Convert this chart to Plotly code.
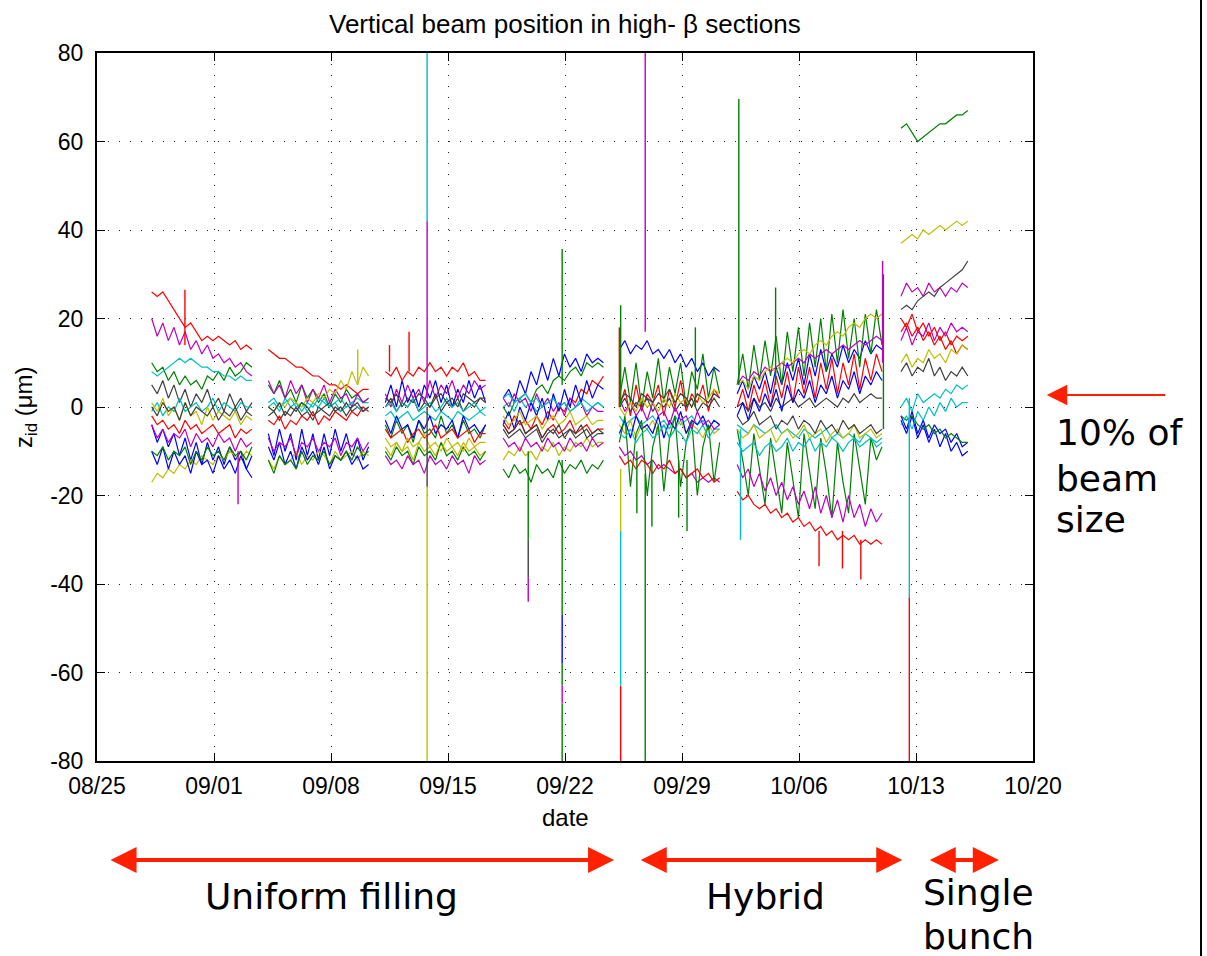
import plotly.graph_objects as go
import pandas as pd

# ---------------- data ----------------
BASE = pd.Timestamp("2006-08-25")
STEP_HOURS = 8
# start of each measurement block (days after 08/25)
seg_start_day = [3.27, 10.25, 17.25, 24.3, 31.25, 38.3, 48.1]

color_map = {
    "b": "#0000FF", "g": "#008000", "r": "#FF0000", "c": "#00BFBF",
    "m": "#BF00BF", "y": "#BFBF00", "k": "#404040",
}

b1 = [[-4,-8,-5,-9,-6,-11,-7,-12,-8,-13,-8,-12,-9,-13,-9,-12,-10,-14,-11],
      [-6,-11,-5,-10,-6,-12,-5,-11,-6,-12,-6,-11,-5,-10,-6,-11,-7,-12,-9],
      [1,5,0,6,1,4,0,5,2,6,1,5,0,4,1,6,2,5,1],
      [2,4,1,6,3,8,5,10,6,11,7,12,9,11,8,12,10,11,10],
      [13,15,12,14,13,15,12,13,11,13,10,12,9,11,8,10,7,9,8],
      [3,6,2,7,4,8,3,9,5,10,6,11,5,12,7,13,8,12,9,14,10,13,11,15,12,14,13],
      [-3,-6,-2,-7,-4,-8,-5,-9,-6,-10,-8,-11,-10]]
g1 = [[10,8,9,6,8,5,7,5,6,4,7,6,8,6,9,7,8,10,9],
      [5,3,6,2,4,1,5,2,4,1,3,0,3,1,4,2,3,1,2],
      [-4,-7,-3,-6,-4,-8,-3,-6,-5,-7,-2,-6,-4,-7,-3,-6,-5,-7,-4],
      [0,-2,1,2,3,1,4,5,3,6,7,6,8,9,7,10,9,10,9],
      [2,9,1,10,0,8,2,11,1,9,3,10,0,8,4,12,2,9,3],
      [5,12,4,14,6,15,7,16,5,17,8,18,7,19,9,20,8,21,10,22,11,20,9,21,12,22,14],
      [63,64,62,60,61,62,63,64,64,65,66,66,67]]
r1 = [[26,25,26,24,22,20,18,19,17,15,16,15,16,15,14,15,13,14,13],
      [13,12,11,11,10,9,9,8,7,7,6,5,5,4,5,4,3,4,4],
      [8,7,9,6,8,7,9,8,10,8,9,7,9,8,10,7,8,6,6],
      [-3,-5,-2,-4,-3,-5,-2,-4,-1,-3,0,-1,2,1,4,3,6,5,7],
      [0,4,-2,5,-1,3,1,5,-2,4,0,6,-1,3,1,5,-1,4,2],
      [0,4,-1,5,1,6,0,7,2,8,1,9,3,9,2,10,4,11,3,10,5,12,4,11,6,12,8],
      [20,18,21,17,19,16,18,15,17,14,16,15,16]]
c1 = [[8,7,8,9,10,11,10,11,10,9,9,8,8,7,7,6,7,6,6],
      [0,1,-1,2,0,1,-1,1,0,2,1,0,1,2,0,1,2,1,1],
      [-2,-1,-3,-2,-1,-3,-2,-1,-2,-3,-1,-2,-3,-1,-2,-3,-2,-1,-2],
      [0,1,-1,2,0,1,-1,0,1,2,0,1,-1,0,2,1,0,1,0],
      [-2,-4,-3,-2,-4,-3,-2,-4,-3,-5,-2,-4,-3,-2,-4,-3,-5,-3,-4],
      [-4,-5,-6,-4,-5,-6,-5,-4,-6,-5,-6,-7,-5,-6,-7,-6,-5,-7,-6,-7,-6,-7,-8,-6,-7,-8,-7],
      [0,2,-1,3,1,2,3,2,4,3,5,4,5]]
m1 = [[20,16,19,15,18,14,17,13,15,12,14,11,12,10,11,9,10,8,7],
      [6,3,5,2,6,3,5,1,4,2,5,1,4,2,3,0,3,1,2],
      [3,0,4,1,5,2,4,1,6,2,5,3,6,2,5,3,6,4,5],
      [2,0,3,1,2,-1,3,0,2,-1,1,-2,2,0,1,-2,0,-1,-1],
      [-9,-11,-10,-12,-11,-13,-12,-14,-13,-14,-15,-14,-16,-15,-17,-16,-17,-16,-17],
      [5,7,6,8,7,9,8,9,10,9,10,11,10,12,11,12,13,12,13,14,13,14,15,14,15,16,15],
      [25,28,26,27,25,28,26,27,25,27,26,28,27]]
y1 = [[-17,-15,-16,-14,-15,-13,-14,-12,-13,-11,-12,-13,-11,-12,-10,-11,-12,-10,-11],
      [-12,-14,-11,-13,-12,-10,-13,-11,-12,-10,-11,-13,-10,-12,-11,-10,-12,-10,-11],
      [-9,-11,-8,-10,-9,-12,-8,-10,-9,-11,-8,-10,-9,-11,-8,-10,-9,-11,-10],
      [-12,-10,-11,-9,-11,-10,-12,-9,-10,-8,-11,-9,-10,-8,-9,-7,-9,-8,-8],
      [-4,-6,-3,-7,-4,-5,-3,-6,-4,-7,-5,-3,-6,-4,-5,-7,-4,-6,-5],
      [5,6,4,7,6,8,9,8,10,11,10,12,13,12,14,15,14,16,17,16,18,19,18,20,21,20,21],
      [37,38,39,38,40,39,40,41,40,41,42,41,42]]
k1 = [[5,3,6,2,5,1,4,0,3,1,4,0,2,-1,3,0,2,-1,1],
      [-2,-1,-3,-1,-2,0,-2,-1,-3,0,-1,-2,0,-1,1,-1,0,-1,0],
      [0,2,-1,1,0,2,-1,1,0,3,-1,1,0,2,-1,1,0,2,1],
      [-5,-7,-6,-5,-7,-6,-5,-8,-6,-5,-7,-6,-5,-7,-6,-5,-7,-6,-6],
      [0,2,-1,1,0,2,-1,1,0,2,-1,1,0,2,-1,1,0,2,0],
      [0,1,-1,2,0,1,-1,2,0,1,2,0,1,2,0,1,2,1,0,2,1,3,1,2,3,2,2],
      [22,23,22,24,25,26,25,27,28,29,30,31,33]]
b2 = [[-10,-13,-9,-14,-10,-13,-11,-15,-10,-13,-12,-15,-11,-14,-12,-15,-11,-14,-16],
      [-9,-12,-8,-13,-10,-14,-9,-12,-10,-13,-9,-14,-11,-12,-10,-13,-11,-14,-13],
      [-3,-6,-2,-5,-4,-7,-3,-5,-2,-6,-4,-5,-3,-7,-2,-5,-4,-6,-4],
      [-4,-1,-5,0,-3,1,-2,2,-3,3,-1,4,0,5,1,6,2,5,4],
      [-6,-3,-7,-2,-5,-4,-6,-2,-7,-3,-5,-1,-6,-3,-4,-2,-5,-3,-4],
      [-2,1,-3,2,-1,3,0,4,-1,5,1,4,2,6,1,5,3,7,2,6,4,8,3,7,5,8,6],
      [-2,-5,-1,-6,-3,-7,-4,-6,-5,-8,-6,-9,-8]]
g2 = [[-10,-11,-9,-12,-10,-11,-9,-13,-10,-12,-9,-11,-10,-12,-9,-11,-10,-12,-9],
      [-12,-15,-11,-13,-12,-14,-10,-13,-11,-12,-10,-13,-11,-12,-10,-12,-9,-11,-10],
      [-10,-12,-9,-11,-10,-13,-9,-11,-10,-12,-8,-11,-10,-12,-9,-11,-10,-12,-10],
      [-14,-16,-13,-15,-14,-17,-13,-15,-14,-16,-12,-15,-13,-14,-12,-15,-13,-14,-12],
      [-8,-2,-18,-6,-3,-20,-9,-4,-19,-7,-2,-18,-8,-3,-20,-9,-4,-17,-8],
      [-5,-12,-20,-6,-14,-22,-7,-15,-24,-8,-16,-25,-6,-14,-23,-7,-15,-25,-8,-17,-24,-6,-14,-22,-7,-12,-9],
      [-2,-3,-2,-4,-5,-4,-6,-5,-7,-6,-7,-8,-8]]
r2 = [[-2,-4,-3,-5,-4,-6,-3,-5,-4,-6,-5,-4,-6,-5,-4,-7,-5,-6,-5],
      [-3,-4,-2,-5,-3,-4,-2,-3,-1,-4,-2,-3,-1,-2,-3,-1,-2,0,-1],
      [-5,-7,-6,-5,-8,-6,-5,-7,-6,-4,-7,-6,-5,-7,-6,-5,-8,-6,-6],
      [-4,-6,-5,-3,-6,-5,-4,-7,-5,-4,-6,-5,-3,-6,-5,-4,-6,-5,-5],
      [-11,-13,-12,-14,-12,-13,-15,-13,-14,-12,-15,-14,-16,-15,-14,-16,-15,-17,-16],
      [-19,-21,-20,-22,-23,-22,-24,-23,-25,-24,-26,-25,-27,-26,-28,-27,-29,-28,-30,-29,-30,-29,-31,-30,-31,-30,-31],
      [17,19,16,18,15,17,14,16,13,15,12,14,13]]
m2 = [[-4,-7,-5,-8,-6,-7,-5,-9,-6,-8,-7,-9,-6,-8,-7,-10,-7,-9,-8],
      [-7,-10,-8,-9,-7,-11,-8,-9,-7,-10,-8,-9,-7,-11,-8,-9,-7,-10,-8],
      [-11,-13,-12,-14,-11,-13,-12,-15,-11,-13,-12,-14,-11,-13,-12,-15,-11,-13,-12],
      [-7,-9,-8,-10,-7,-9,-8,-10,-7,-9,-8,-10,-7,-9,-8,-10,-7,-9,-8],
      [2,-1,1,-2,0,-3,1,-2,-1,-4,0,-3,-2,-5,-1,-4,-3,-5,-4],
      [-13,-16,-14,-18,-15,-19,-16,-20,-17,-21,-18,-22,-19,-23,-18,-24,-20,-25,-21,-26,-20,-25,-22,-27,-23,-26,-24],
      [15,18,14,17,16,19,15,18,16,19,17,18,17]]
y2 = [[1,-1,2,-2,0,-3,1,-2,-1,-4,0,-3,-1,-2,-3,-1,-4,-2,-3],
      [0,-1,1,0,2,1,0,2,1,3,2,4,3,6,4,8,5,9,7],
      [-7,-9,-8,-10,-7,-9,-8,-6,-9,-8,-10,-7,-9,-8,-10,-7,-9,-8,-8],
      [-2,-4,-3,-1,-4,-3,-2,-5,-3,-2,-4,-3,-1,-4,-3,-2,-4,-3,-3],
      [0,-2,1,-1,2,0,1,-1,2,0,3,1,2,0,3,1,2,4,3],
      [-5,-7,-6,-4,-7,-6,-5,-8,-6,-5,-7,-6,-4,-7,-6,-5,-8,-6,-5,-7,-6,-4,-7,-6,-5,-7,-6],
      [10,12,9,11,10,13,11,12,10,13,12,14,13]]
k2 = [[0,-2,1,-1,0,-3,1,-2,0,-1,-2,0,-3,-1,-2,0,-3,-1,-2],
      [0,-1,1,-2,0,-1,1,0,-2,-1,0,1,-1,0,-2,0,1,-1,0],
      [2,1,3,0,2,1,3,2,0,2,3,1,2,0,3,2,1,2,2],
      [-4,-6,-5,-3,-6,-5,-4,-7,-5,-6,-4,-7,-5,-6,-4,-7,-6,-5,-6],
      [1,3,2,0,3,2,1,3,2,4,1,3,2,0,3,2,1,3,2],
      [-2,-4,-3,-1,-4,-3,-2,-5,-3,-4,-2,-5,-3,-4,-6,-3,-5,-4,-6,-3,-5,-4,-6,-5,-4,-6,-5],
      [8,10,7,9,8,11,7,9,6,8,7,9,7]]
c2 = [[-1,1,-2,0,-1,2,-1,0,1,-1,0,2,-1,1,0,-1,1,0,0],
      [1,2,0,1,2,0,1,-1,1,0,2,0,1,-1,0,1,0,-1,0],
      [0,1,-1,1,0,2,-1,0,1,-1,0,2,0,1,-1,0,1,-1,0],
      [2,3,1,2,3,1,2,0,1,2,0,1,-1,0,1,-1,0,1,0],
      [-6,-7,-5,-8,-6,-5,-7,-6,-4,-7,-5,-6,-8,-5,-6,-4,-7,-5,-5],
      [-8,-10,-9,-8,-11,-9,-8,-10,-9,-7,-10,-8,-9,-7,-10,-8,-9,-7,-8,-10,-8,-7,-9,-8,-7,-9,-8],
      [-4,-2,-5,-1,-3,0,-2,1,-1,2,0,1,1]]

series = [("b", b1), ("g", g1), ("r", r1), ("c", c1), ("m", m1), ("y", y1), ("k", k1),
          ("b", b2), ("g", g2), ("r", r2), ("c", c2), ("m", m2), ("y", y2), ("k", k2)]

# isolated spikes (day after 08/25, low, high, colour)
spike_day = [5.26, 8.44, 17.5, 18.67, 15.6, 19.75, 19.75, 19.75, 19.75, 25.8, 25.8, 25.8,
             27.83, 27.83, 27.83, 27.83, 27.83, 27.83, 31.25, 31.33, 31.33, 31.33, 31.33,
             32.3, 32.8, 32.8, 33.2, 34.8, 35.3, 35.8, 38.4, 38.5, 40.6, 43.2, 44.6, 45.7,
             47.0, 47.05, 48.6, 48.6]
spike_lo = [14, -22, 8, 8, 5, 42, 2, -18, -80, -30, -38.5, -44, 5, -47, -58, -63, -67, -80,
            0, 0, -28, -63, -80, -24, 17, -80, -27, -25, -28, 0, 5, -30, 5, -36, -36.5, -39,
            10, -5, -43, -80]
spike_hi = [26.5, -10, 14, 17, 13, 80, 42, 0, -18, -10, -30, -38.5, 35.7, -12, -47, -58, -63,
            -67, 18, 23, -14, -28, -63, -10, 80, -15, -12, -12, -12, 18, 69.6, -5, 27, -28,
            -28, -30, 33, 30, 2, -43]
spike_col = ['r', 'm', 'r', 'r', 'y', 'c', 'm', 'k', 'y', 'g', 'k', 'm', 'g', 'g', 'b', 'g',
             'm', 'g', 'r', 'g', 'y', 'c', 'r', 'g', 'm', 'g', 'g', 'g', 'g', 'g', 'g', 'c',
             'g', 'r', 'r', 'r', 'm', 'g', 'c', 'r']

x_tick_start = "2006-08-25"
x_end = "2006-10-20"
y_ticks = [-80, -60, -40, -20, 0, 20, 40, 60, 80]
y_tick_text = ["-80", "-60", "-40", "-20", "0", "20", "40", "60", "80"]

# ---------------- figure ----------------
fig = go.Figure()

for cname, segs in series:
    xs, ys = [], []
    for start, vals in zip(seg_start_day, segs):
        t0 = BASE + pd.Timedelta(days=start)
        xs += [t0 + pd.Timedelta(hours=STEP_HOURS * i) for i in range(len(vals))]
        ys += vals
        xs.append(None)
        ys.append(None)
    fig.add_trace(go.Scatter(x=xs, y=ys, mode="lines",
                             line=dict(color=color_map[cname], width=1.2),
                             showlegend=False, hoverinfo="skip"))

for cname in color_map:
    xs, ys = [], []
    for d, lo, hi, c in zip(spike_day, spike_lo, spike_hi, spike_col):
        if c != cname:
            continue
        t = BASE + pd.Timedelta(days=d)
        xs += [t, t, None]
        ys += [lo, hi, None]
    if xs:
        fig.add_trace(go.Scatter(x=xs, y=ys, mode="lines",
                                 line=dict(color=color_map[cname], width=1.4),
                                 showlegend=False, hoverinfo="skip"))

ARIAL = "Arial, Liberation Sans, Helvetica, sans-serif"
axis_font = dict(family=ARIAL, size=23, color="black")
common = dict(showline=True, linecolor="black", linewidth=2, mirror="ticks",
              ticks="inside", ticklen=8, tickcolor="black", tickwidth=1,
              showgrid=True, gridcolor="#222222", gridwidth=1, griddash="1px,10px",
              zeroline=False, tickfont=axis_font)

fig.update_xaxes(range=[x_tick_start, x_end], tick0=x_tick_start, dtick=7 * 86400000,
                 tickformat="%m/%d", ticklabelstandoff=3, **common)
fig.update_yaxes(range=[-80, 80], tickvals=y_ticks, ticktext=y_tick_text,
                 ticklabelstandoff=7, **common)

big_font = dict(family="Verdana, DejaVu Sans, sans-serif", size=36, color="black")
red = "#FF2000"
annotations = [
    dict(text="Vertical beam position in high- β sections", x=0.5, y=1.0415,
         xref="paper", yref="paper", showarrow=False, xanchor="center", yanchor="middle",
         font=dict(family=ARIAL, size=26, color="black")),
    dict(text="z<sub>id</sub> (μm)", x=-0.0769, y=0.5, xref="paper", yref="paper",
         showarrow=False, textangle=-90, xanchor="center", yanchor="middle",
         font=dict(family=ARIAL, size=24, color="black")),
    dict(text="date", x=0.5, y=-0.0805, xref="paper", yref="paper", showarrow=False,
         xanchor="center", yanchor="middle",
         font=dict(family=ARIAL, size=24, color="black")),
    dict(text="Uniform filling", x=0.25, y=-0.1907, xref="paper", yref="paper",
         showarrow=False, xanchor="center", yanchor="middle", font=big_font),
    dict(text="Hybrid", x=0.7147, y=-0.1907, xref="paper", yref="paper",
         showarrow=False, xanchor="center", yanchor="middle", font=big_font),
    dict(text="Single", x=0.9417, y=-0.1864, xref="paper", yref="paper",
         showarrow=False, xanchor="center", yanchor="middle", font=big_font),
    dict(text="bunch", x=0.9417, y=-0.2472, xref="paper", yref="paper",
         showarrow=False, xanchor="center", yanchor="middle", font=big_font),
    dict(text="10% of", x=1.022, y=0.4633, xref="paper", yref="paper",
         showarrow=False, xanchor="left", yanchor="middle", font=big_font),
    dict(text="beam", x=1.022, y=0.3997, xref="paper", yref="paper",
         showarrow=False, xanchor="left", yanchor="middle", font=big_font),
    dict(text="size", x=1.022, y=0.3418, xref="paper", yref="paper",
         showarrow=False, xanchor="left", yanchor="middle", font=big_font),
]
# double-headed arrows below the chart
for xr, ax in [(0.5524, -505), (0.8603, -263), (0.9635, -70.6)]:
    annotations.append(dict(text="", x=xr, y=-0.1398, xref="paper", yref="paper",
                            ax=ax, ay=0, showarrow=True, arrowside="end+start",
                            arrowhead=2, startarrowhead=2, arrowsize=1.3, startarrowsize=1.3,
                            arrowwidth=4, arrowcolor=red, standoff=0, startstandoff=0))
annotations.append(dict(text="", x=1.0147, y=0.5169, xref="paper", yref="paper",
                        ax=120, ay=0, showarrow=True, arrowhead=2, arrowsize=2.05,
                        arrowwidth=2, arrowcolor=red, standoff=0))

fig.update_layout(
    width=1207, height=956,
    margin=dict(l=97, r=174, t=53, b=195),
    paper_bgcolor="white", plot_bgcolor="white",
    annotations=annotations,
    shapes=[dict(type="line", xref="paper", yref="paper", x0=1.1795, x1=1.1795,
                 y0=-0.2754, y1=1.0749, line=dict(color="black", width=2))],
    showlegend=False,
)

fig.write_html("out.html")
